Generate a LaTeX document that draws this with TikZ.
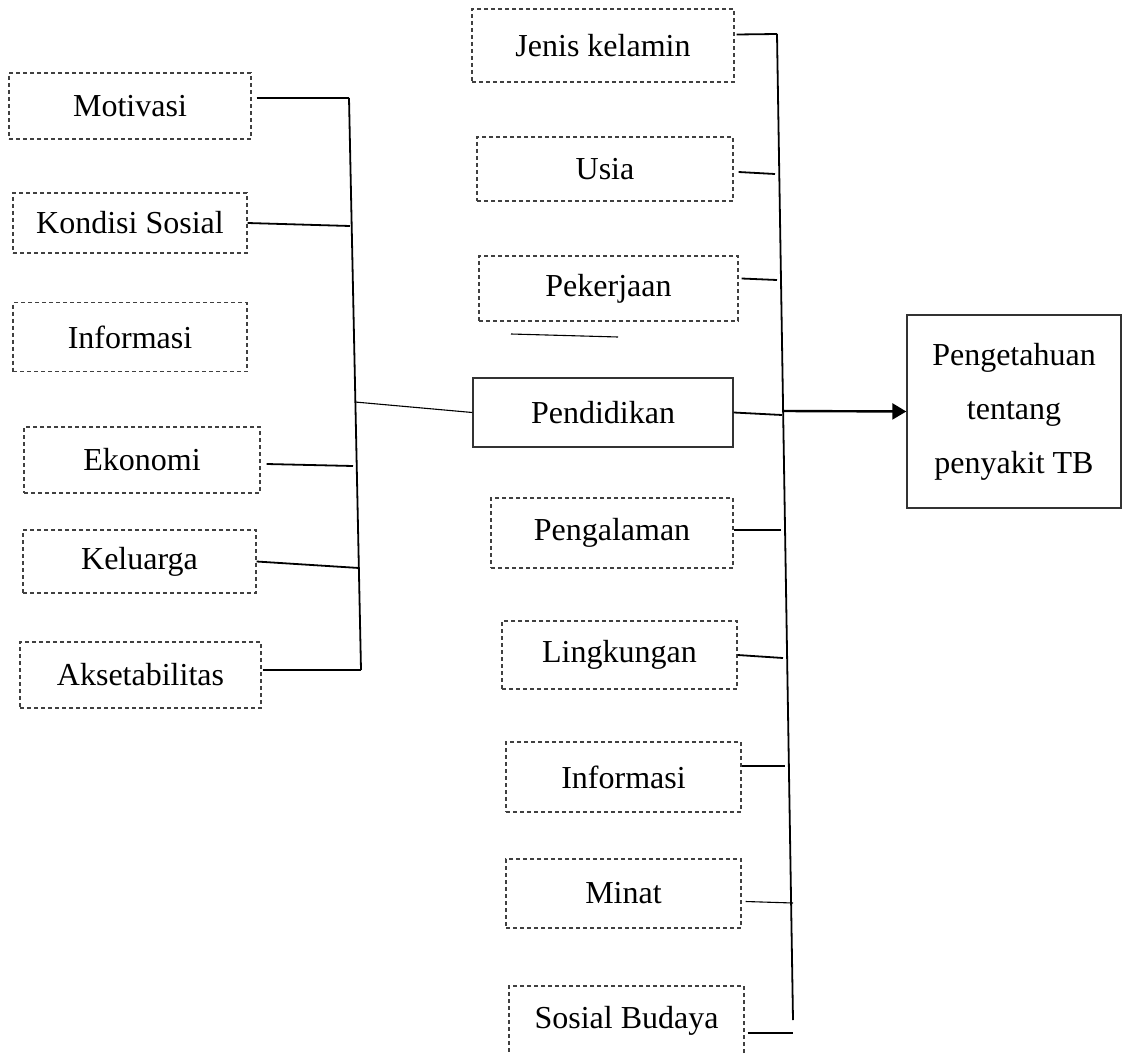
\documentclass[tikz,border=0pt]{standalone}
\usepackage{fontspec}
\setmainfont{Liberation Serif}
\usetikzlibrary{arrows.meta}

\begin{document}
\begin{tikzpicture}[x=1pt,y=-1pt,
  factor/.style={draw=black!75, line width=1.1pt, dash pattern=on 4pt off 3pt,
    inner sep=0pt, font=\fontsize{32}{40}\selectfont},
  mainbox/.style={draw=black!80, line width=1.4pt, inner sep=0pt,
    font=\fontsize{32}{54}\selectfont},
  link/.style={black, line width=1.8pt},
  thinlink/.style={black, line width=1.1pt}]
\useasboundingbox (0,0) rectangle (1122,1054);
%\draw[step=50,gray,very thin] (0,0) grid (1122,1054);
\node[factor, minimum width=242pt, minimum height=66pt] (mot) at (130,106) {Motivasi};
\node[factor, minimum width=234pt, minimum height=60pt] (kon) at (130,223) {Kondisi Sosial};
\node[factor, minimum width=234pt, minimum height=69pt] (infa) at (130,337) {Informasi};
\node[factor, minimum width=236pt, minimum height=66pt] (eko) at (142,460) {Ekonomi};
\node[factor, minimum width=233pt, minimum height=63pt] (kel) at (139.5,561.5) {Keluarga};
\node[factor, minimum width=241pt, minimum height=66pt] (aks) at (140.5,675) {Aksetabilitas};
\node[factor, minimum width=262pt, minimum height=73pt] (jk) at (603,45.5) {Jenis kelamin};
\node[factor, minimum width=256pt, minimum height=64pt] (usia) at (605,169) {Usia};
\node[factor, minimum width=259pt, minimum height=65pt] (pek) at (608.5,288.5) {Pekerjaan};
\node[mainbox, minimum width=260pt, minimum height=69pt] (pend) at (603,412.5) {Pendidikan};
\node[factor, minimum width=242pt, minimum height=70pt] (pengal) at (612,533) {Pengalaman};
\node[factor, minimum width=235pt, minimum height=68pt] (ling) at (619.5,655) {Lingkungan};
\node[factor, minimum width=235pt, minimum height=70pt] (infb) at (623.5,777) {Informasi};
\node[factor, minimum width=235pt, minimum height=69pt] (minat) at (623.5,893.5) {Minat};
\node[factor, minimum width=235pt, minimum height=70pt] (sosbud) at (626.5,1021) {Sosial Budaya};
\node[mainbox, minimum width=214pt, minimum height=193pt, align=center] (tb) at (1014,411.5)
  {Pengetahuan\\tentang\\penyakit TB};
% left bus
\coordinate (lmot) at (349,98);
\coordinate (lkon) at (350,226);
\coordinate (lpend) at (355,402);
\coordinate (leko) at (353,466);
\coordinate (lkel) at (359,568);
\coordinate (laks) at (361,670);
\draw[link] (lmot) -- (laks);
\draw[link] (mot.east) ++(5,-8) -- (lmot);
\draw[link] (kon.east) -- (lkon);
\draw[link] (eko.east) ++(6,4) -- (leko);
\draw[link] (kel.east) -- (lkel);
\draw[link] (aks.east) ++(1,-5) -- (laks);
\draw[thinlink] (lpend) -- (pend.west);
% right bus
\coordinate (rjk) at (777,34);
\coordinate (rusia) at (775,174);
\coordinate (rpek) at (777,280);
\coordinate (rpend) at (782,415);
\coordinate (rpengal) at (781,530);
\coordinate (rling) at (783,658);
\coordinate (rinf) at (785,766);
\coordinate (rminat) at (793,903);
\coordinate (rsos) at (793,1033);
\coordinate (rend) at (793,1020);
\draw[link] (rjk) -- (rend);
\draw[link] (jk.east) ++(2,-11) -- (rjk);
\draw[link] (usia.east) ++(5,3) -- (rusia);
\draw[link] (pek.east) ++(3,-10) -- (rpek);
\draw[link] (pend.east) -- (rpend);
\draw[link] (pengal.east) ++(0,-3) -- (rpengal);
\draw[link] (ling.east) -- (rling);
\draw[link] (infb.east) ++(0,-11) -- (rinf);
\draw[thinlink] (minat.east) ++(4,8) -- (rminat);
\draw[thinlink] (sosbud.east) ++(3,12) -- (rsos);
\coordinate (arr) at (784,411);
\draw[black, line width=2.4pt, -{Triangle[length=14pt,width=16pt]}] (arr) -- (tb.west);
% loose stroke under Pekerjaan
\coordinate (sa) at (511,334);
\coordinate (sb) at (618,337);
\draw[thinlink] (sa) -- (sb);
\end{tikzpicture}
\end{document}
